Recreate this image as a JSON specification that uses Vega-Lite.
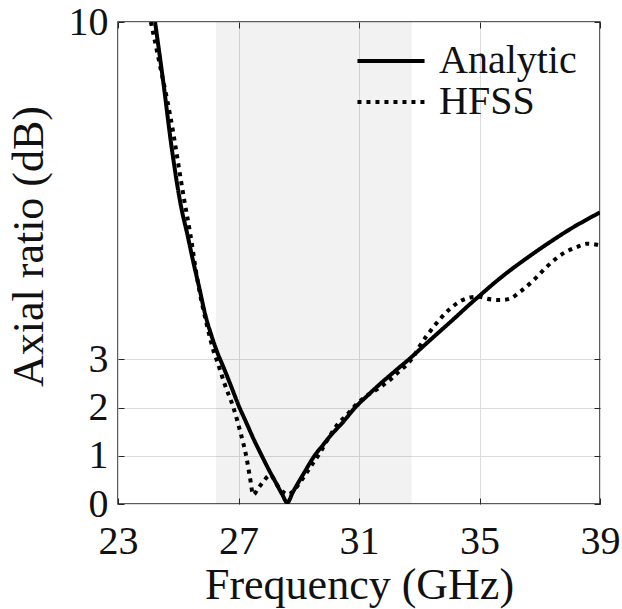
{
  "$schema": "https://vega.github.io/schema/vega-lite/v6.json",
  "width": 482,
  "height": 482,
  "autosize": {"type": "none"},
  "padding": {"left": 118, "top": 22, "right": 22, "bottom": 105},
  "background": "white",
  "config": {
    "view": {"stroke": "#262626", "strokeWidth": 1.5},
    "font": "Liberation Serif",
    "axis": {
      "labelFont": "Liberation Serif",
      "labelFontSize": 40,
      "labelColor": "#111",
      "titleFont": "Liberation Serif",
      "titleFontSize": 44,
      "titleFontWeight": "normal",
      "titleColor": "#111",
      "domain": false,
      "gridColor": "#dcdcdc",
      "gridWidth": 1,
      "tickColor": "#262626",
      "tickSize": -6,
      "tickWidth": 1
    },
    "legend": {
      "labelFont": "Liberation Serif",
      "labelFontSize": 40,
      "labelColor": "#111"
    }
  },
  "resolve": {"axis": {"x": "independent", "y": "independent"}},
  "layer": [
    {
      "data": {"values": [{"start": 26.25, "end": 32.75, "lo": 0, "hi": 10}]},
      "mark": {"type": "rect", "fill": "#000", "fillOpacity": 0.05},
      "encoding": {
        "x": {
          "field": "start", "type": "quantitative",
          "scale": {"domain": [23, 39], "nice": false, "zero": false},
          "axis": {
            "orient": "bottom",
            "values": [23, 27, 31, 35, 39],
            "grid": true,
            "labelPadding": 23,
            "labelFlush": false,
            "title": "Frequency (GHz)",
            "titlePadding": 2
          }
        },
        "x2": {"field": "end"},
        "y": {
          "field": "lo", "type": "quantitative",
          "scale": {"domain": [0, 10], "nice": false},
          "axis": {
            "orient": "right",
            "values": [0, 1, 2, 3, 10],
            "labels": false,
            "grid": false,
            "title": null
          }
        },
        "y2": {"field": "hi"}
      }
    },
    {
      "data": {"values": [
        {"f": 24.23, "ar": 10.0, "series": "Analytic"},
        {"f": 24.5, "ar": 8.77, "series": "Analytic"},
        {"f": 24.78, "ar": 7.4, "series": "Analytic"},
        {"f": 25.1, "ar": 6.15, "series": "Analytic"},
        {"f": 25.3, "ar": 5.6, "series": "Analytic"},
        {"f": 25.5, "ar": 5.02, "series": "Analytic"},
        {"f": 25.7, "ar": 4.48, "series": "Analytic"},
        {"f": 25.9, "ar": 3.92, "series": "Analytic"},
        {"f": 26.1, "ar": 3.5, "series": "Analytic"},
        {"f": 26.3, "ar": 3.14, "series": "Analytic"},
        {"f": 26.5, "ar": 2.84, "series": "Analytic"},
        {"f": 26.75, "ar": 2.45, "series": "Analytic"},
        {"f": 27.0, "ar": 2.05, "series": "Analytic"},
        {"f": 27.25, "ar": 1.7, "series": "Analytic"},
        {"f": 27.5, "ar": 1.35, "series": "Analytic"},
        {"f": 27.75, "ar": 1.03, "series": "Analytic"},
        {"f": 28.0, "ar": 0.72, "series": "Analytic"},
        {"f": 28.25, "ar": 0.43, "series": "Analytic"},
        {"f": 28.45, "ar": 0.2, "series": "Analytic"},
        {"f": 28.62, "ar": 0.03, "series": "Analytic"},
        {"f": 28.8, "ar": 0.24, "series": "Analytic"},
        {"f": 29.0, "ar": 0.46, "series": "Analytic"},
        {"f": 29.2, "ar": 0.67, "series": "Analytic"},
        {"f": 29.5, "ar": 0.98, "series": "Analytic"},
        {"f": 29.8, "ar": 1.22, "series": "Analytic"},
        {"f": 30.1, "ar": 1.45, "series": "Analytic"},
        {"f": 30.47, "ar": 1.7, "series": "Analytic"},
        {"f": 30.87, "ar": 2.0, "series": "Analytic"},
        {"f": 31.3, "ar": 2.26, "series": "Analytic"},
        {"f": 31.7, "ar": 2.49, "series": "Analytic"},
        {"f": 32.2, "ar": 2.76, "series": "Analytic"},
        {"f": 32.69, "ar": 3.02, "series": "Analytic"},
        {"f": 33.2, "ar": 3.31, "series": "Analytic"},
        {"f": 33.7, "ar": 3.59, "series": "Analytic"},
        {"f": 34.2, "ar": 3.87, "series": "Analytic"},
        {"f": 34.6, "ar": 4.1, "series": "Analytic"},
        {"f": 35.0, "ar": 4.32, "series": "Analytic"},
        {"f": 35.5, "ar": 4.59, "series": "Analytic"},
        {"f": 36.0, "ar": 4.84, "series": "Analytic"},
        {"f": 36.5, "ar": 5.07, "series": "Analytic"},
        {"f": 37.0, "ar": 5.29, "series": "Analytic"},
        {"f": 37.5, "ar": 5.5, "series": "Analytic"},
        {"f": 38.0, "ar": 5.7, "series": "Analytic"},
        {"f": 38.5, "ar": 5.88, "series": "Analytic"},
        {"f": 39.0, "ar": 6.05, "series": "Analytic"},
        {"f": 24.09, "ar": 10.0, "series": "HFSS"},
        {"f": 24.39, "ar": 9.11, "series": "HFSS"},
        {"f": 24.73, "ar": 8.07, "series": "HFSS"},
        {"f": 25.2, "ar": 6.3, "series": "HFSS"},
        {"f": 25.4, "ar": 5.6, "series": "HFSS"},
        {"f": 25.65, "ar": 4.6, "series": "HFSS"},
        {"f": 25.94, "ar": 3.74, "series": "HFSS"},
        {"f": 26.2, "ar": 3.12, "series": "HFSS"},
        {"f": 26.27, "ar": 3.0, "series": "HFSS"},
        {"f": 26.55, "ar": 2.47, "series": "HFSS"},
        {"f": 26.83, "ar": 2.0, "series": "HFSS"},
        {"f": 27.05, "ar": 1.52, "series": "HFSS"},
        {"f": 27.27, "ar": 0.95, "series": "HFSS"},
        {"f": 27.38, "ar": 0.55, "series": "HFSS"},
        {"f": 27.49, "ar": 0.19, "series": "HFSS"},
        {"f": 27.65, "ar": 0.32, "series": "HFSS"},
        {"f": 27.82, "ar": 0.46, "series": "HFSS"},
        {"f": 28.05, "ar": 0.6, "series": "HFSS"},
        {"f": 28.3, "ar": 0.38, "series": "HFSS"},
        {"f": 28.5, "ar": 0.24, "series": "HFSS"},
        {"f": 28.65, "ar": 0.2, "series": "HFSS"},
        {"f": 28.9, "ar": 0.33, "series": "HFSS"},
        {"f": 29.1, "ar": 0.5, "series": "HFSS"},
        {"f": 29.4, "ar": 0.78, "series": "HFSS"},
        {"f": 29.7, "ar": 1.06, "series": "HFSS"},
        {"f": 30.0, "ar": 1.38, "series": "HFSS"},
        {"f": 30.3, "ar": 1.66, "series": "HFSS"},
        {"f": 30.6, "ar": 1.85, "series": "HFSS"},
        {"f": 30.9, "ar": 2.06, "series": "HFSS"},
        {"f": 31.2, "ar": 2.22, "series": "HFSS"},
        {"f": 31.7, "ar": 2.42, "series": "HFSS"},
        {"f": 32.0, "ar": 2.56, "series": "HFSS"},
        {"f": 32.36, "ar": 2.77, "series": "HFSS"},
        {"f": 32.6, "ar": 2.9, "series": "HFSS"},
        {"f": 32.8, "ar": 3.05, "series": "HFSS"},
        {"f": 33.02, "ar": 3.28, "series": "HFSS"},
        {"f": 33.47, "ar": 3.67, "series": "HFSS"},
        {"f": 34.02, "ar": 4.05, "series": "HFSS"},
        {"f": 34.4, "ar": 4.22, "series": "HFSS"},
        {"f": 34.74, "ar": 4.29, "series": "HFSS"},
        {"f": 35.0, "ar": 4.3, "series": "HFSS"},
        {"f": 35.24, "ar": 4.26, "series": "HFSS"},
        {"f": 35.68, "ar": 4.23, "series": "HFSS"},
        {"f": 36.01, "ar": 4.26, "series": "HFSS"},
        {"f": 36.34, "ar": 4.4, "series": "HFSS"},
        {"f": 36.79, "ar": 4.64, "series": "HFSS"},
        {"f": 37.23, "ar": 4.92, "series": "HFSS"},
        {"f": 37.78, "ar": 5.2, "series": "HFSS"},
        {"f": 38.23, "ar": 5.33, "series": "HFSS"},
        {"f": 38.56, "ar": 5.4, "series": "HFSS"},
        {"f": 38.9, "ar": 5.38, "series": "HFSS"},
        {"f": 39.0, "ar": 5.37, "series": "HFSS"}
      ]},
      "mark": {"type": "line", "strokeWidth": 4, "color": "#000", "interpolate": "monotone", "clip": true},
      "encoding": {
        "x": {
          "field": "f", "type": "quantitative",
          "scale": {"domain": [23, 39], "nice": false, "zero": false},
          "axis": {
            "orient": "top",
            "values": [23, 27, 31, 35, 39],
            "labels": false,
            "grid": false,
            "title": null
          }
        },
        "y": {
          "field": "ar", "type": "quantitative",
          "scale": {"domain": [0, 10], "nice": false},
          "axis": {
            "orient": "left",
            "values": [0, 1, 2, 3, 10],
            "grid": true,
            "labelPadding": 16,
            "labelFlush": false,
            "title": "Axial ratio (dB)",
            "titlePadding": 17,
            "titleY": 224
          }
        },
        "strokeDash": {
          "field": "series", "type": "nominal",
          "scale": {"domain": ["Analytic", "HFSS"], "range": [[1, 0], [4, 5]]},
          "legend": {
            "orient": "none",
            "legendX": 253,
            "legendY": 19,
            "title": null,
            "padding": 0,
            "symbolType": "M-3,0H3",
            "symbolSize": 500,
            "symbolStrokeWidth": 4,
            "symbolStrokeColor": "#000",
            "labelOffset": 28,
            "rowPadding": 1
          }
        }
      }
    }
  ]
}
